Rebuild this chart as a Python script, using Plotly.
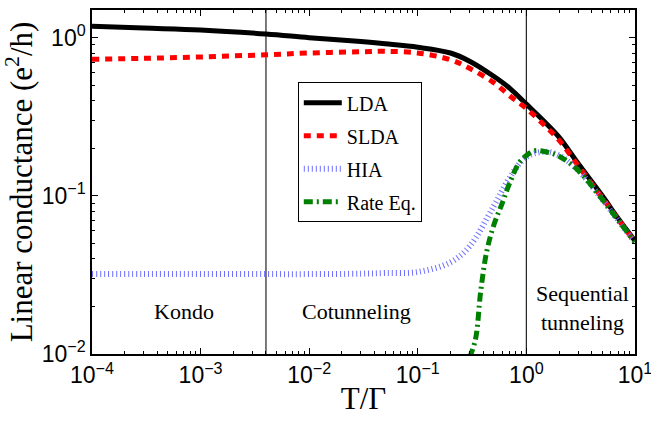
import math
import plotly.graph_objects as go

# ---- data ----
T = [1e-4, 3e-4, 1e-3, 4e-3, 1e-2, 3e-2, 0.05, 0.1, 0.2, 0.3, 0.5, 0.7, 1.0, 1.5, 2.0, 3.0, 5.0, 7.0, 10.0]
LDA = [1.18, 1.15, 1.12, 1.055, 1.0, 0.945, 0.915, 0.87, 0.80, 0.71, 0.57, 0.48, 0.38, 0.29, 0.235, 0.16, 0.10, 0.072, 0.052]
SLDA = [0.73, 0.74, 0.755, 0.78, 0.80, 0.815, 0.82, 0.80, 0.725, 0.64, 0.52, 0.43, 0.357, 0.275, 0.225, 0.155, 0.097, 0.071, 0.051]
HIA = [0.032, 0.032, 0.032, 0.032, 0.032, 0.0322, 0.0325, 0.033, 0.038, 0.048, 0.086, 0.13, 0.176, 0.19, 0.18, 0.145, 0.095, 0.07, 0.051]
T_RE = [0.3, 0.34, 0.38, 0.43, 0.5, 0.6, 0.7, 0.85, 1.0, 1.2, 1.5, 2.0, 3.0, 5.0, 7.0, 10.0]
RATE = [0.0095, 0.0124, 0.025, 0.044, 0.065, 0.09, 0.12, 0.16, 0.18, 0.193, 0.19, 0.178, 0.145, 0.095, 0.07, 0.051]

X_TICKS = [1e-4, 1e-3, 1e-2, 1e-1, 1e0, 1e1]
X_TICK_LABELS = ["10<sup>−4</sup>", "10<sup>−3</sup>", "10<sup>−2</sup>", "10<sup>−1</sup>", "10<sup>0</sup>", "10<sup>1</sup>"]
Y_TICKS = [1e-2, 1e-1, 1e0]
Y_TICK_LABELS = ["10<sup>−2</sup>", "10<sup>−1</sup>", "10<sup>0</sup>"]

REGION_BOUNDS = [0.004, 1.0]
REGION_LABELS = ["Kondo", "Cotunneling", "Sequential<br>tunneling"]
REGION_X = [7e-4, 0.027, 3.3]
REGION_Y = [0.0186, 0.0186, 0.0195]

serif = "Liberation Serif"
sans = "Liberation Sans"

def minor_vals(e0, e1):
    return [m * 10.0 ** e for e in range(e0, e1) for m in range(2, 10)]

fig = go.Figure()
fig.add_trace(go.Scatter(x=T, y=LDA, name="LDA", mode="lines", line_shape="spline",
                         legendgroup="a",
                         line=dict(color="black", width=5)))
fig.add_trace(go.Scatter(x=T, y=SLDA, name="SLDA", mode="lines", line_shape="spline",
                         legendgroup="b",
                         line=dict(color="#ff0000", width=5, dash="7px,6px")))
fig.add_trace(go.Scatter(x=T, y=HIA, name="HIA", mode="lines", line_shape="spline",
                         legendgroup="c",
                         line=dict(color="#6f6fff", width=6, dash="1px,3px")))
fig.add_trace(go.Scatter(x=T_RE, y=RATE, name="Rate Eq.", mode="lines", line_shape="spline",
                         legendgroup="d",
                         line=dict(color="#008000", width=5, dash="9px,4px,2px,4px")))

for b in REGION_BOUNDS:
    fig.add_shape(type="line", xref="x", yref="paper", x0=b, x1=b, y0=0, y1=1,
                  line=dict(color="#222222", width=1.2), layer="below")

for lab, xx, yy in zip(REGION_LABELS, REGION_X, REGION_Y):
    fig.add_annotation(x=math.log10(xx), y=math.log10(yy), xref="x", yref="y", text=lab,
                       showarrow=False, font=dict(family=serif, size=22, color="black"))

axis_common = dict(type="log", showgrid=False, zeroline=False, showline=True,
                   linecolor="black", linewidth=1.5, mirror="ticks", ticks="inside",
                   ticklen=6, tickcolor="black", automargin=False, ticklabeloverflow="allow",
                   tickfont=dict(family=sans, size=23, color="black"))

fig.update_xaxes(range=[-4, 1.0004], tickmode="array", tickvals=X_TICKS, ticktext=X_TICK_LABELS,
                 minor=dict(tickmode="array", tickvals=minor_vals(-4, 1), ticks="inside",
                            ticklen=3, tickcolor="black", showgrid=False),
                 title=dict(text="T/Γ", font=dict(family=serif, size=31, color="black"), standoff=0),
                 **axis_common)
fig.update_yaxes(range=[-2, 0.175], tickmode="array", tickvals=Y_TICKS, ticktext=Y_TICK_LABELS,
                 minor=dict(tickmode="array", tickvals=minor_vals(-2, 1)[:-7], ticks="inside",
                            ticklen=3, tickcolor="black", showgrid=False),
                 title=dict(text="Linear conductance (e<sup>2</sup>/h)",
                            font=dict(family=serif, size=31, color="black"), standoff=4),
                 **axis_common)

fig.update_layout(
    width=651, height=424,
    margin=dict(l=92, r=16, t=10, b=70),
    plot_bgcolor="white", paper_bgcolor="white",
    legend=dict(x=0.379, y=0.79, xanchor="left", yanchor="top",
                bordercolor="black", borderwidth=1, bgcolor="white",
                font=dict(family=serif, size=20, color="black"),
                traceorder="grouped", tracegroupgap=4, itemwidth=38),
    showlegend=True,
)

fig.write_html("out.html", config={"displayModeBar": False},
               post_script="document.body.style.margin='0';")
